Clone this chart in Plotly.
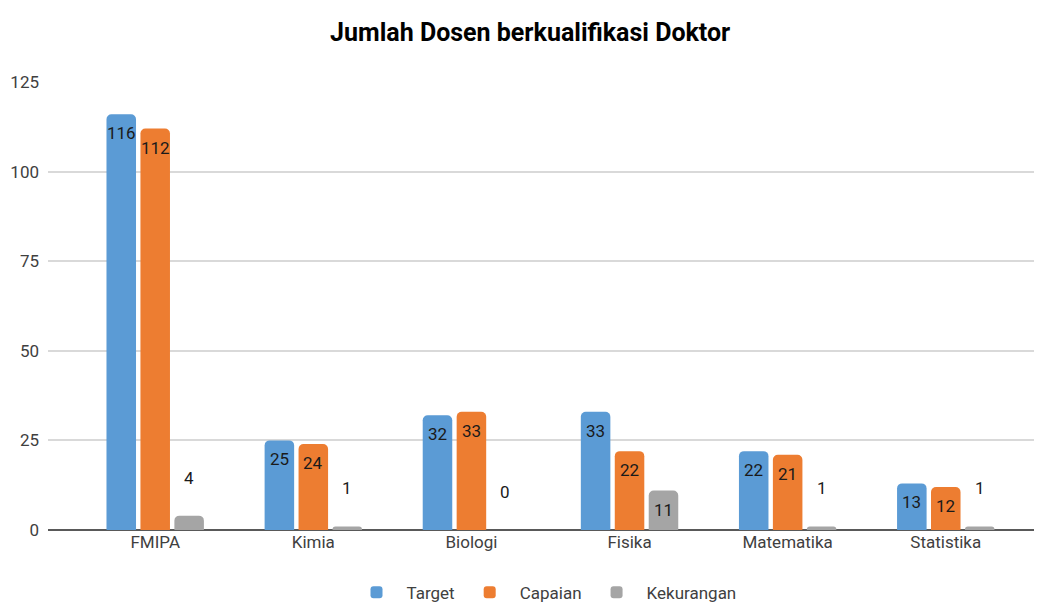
import plotly.graph_objects as go

categories = ["FMIPA", "Kimia", "Biologi", "Fisika", "Matematika", "Statistika"]
target = [116, 25, 32, 33, 22, 13]
capaian = [112, 24, 33, 22, 21, 12]
kekurangan = [4, 1, 0, 11, 1, 1]

FONT = "Roboto, Lato, sans-serif"
colors = ["#5B9BD5", "#ED7D31", "#A5A5A5"]

fig = go.Figure()
for name, vals, col in [("Target", target, colors[0]), ("Capaian", capaian, colors[1]), ("Kekurangan", kekurangan, colors[2])]:
    fig.add_trace(go.Bar(x=categories, y=vals, name=name, marker_color=col, marker_line_width=0))

step = 34
for i, vals in enumerate([target, capaian, kekurangan]):
    for c, v in zip(categories, vals):
        inside = v >= 8
        fig.add_annotation(x=c, y=v, text=str(v), showarrow=False, xshift=(i - 1) * step,
                           yanchor="top" if inside else "bottom", yshift=-7 if inside else 26,
                           font=dict(family=FONT, size=17, color="#1a1a1a"))

fig.update_layout(
    width=1034, height=605,
    margin=dict(l=37, r=2, t=74, b=82),
    paper_bgcolor="white", plot_bgcolor="white",
    title=dict(text="<b>Jumlah Dosen berkualifikasi Doktor</b>", x=0.505, xanchor="center", y=0.96, yanchor="middle",
               font=dict(family=FONT, size=25, color="#000000")),
    barmode="group", bargap=0.356, bargroupgap=0.13, barcornerradius=5,
    font=dict(family=FONT, size=16, color="#404040"),
    legend=dict(orientation="h", x=0.5, xanchor="center", y=-0.1, yanchor="top",
                font=dict(family=FONT, size=17, color="#404040"), itemwidth=50, traceorder="normal"),
    showlegend=True,
)
fig.update_xaxes(range=[-0.678, 5.596], showgrid=False, showline=False, ticks="",
                 tickfont=dict(family=FONT, size=17, color="#404040"))
fig.update_yaxes(range=[0, 125], dtick=25, showgrid=True, gridcolor="#d9d9d9", gridwidth=2,
                 zeroline=True, zerolinecolor="#595959", zerolinewidth=2, showline=False,
                 tickfont=dict(family=FONT, size=17, color="#404040"), ticklabelstandoff=8)

fig.write_html("out.html")
